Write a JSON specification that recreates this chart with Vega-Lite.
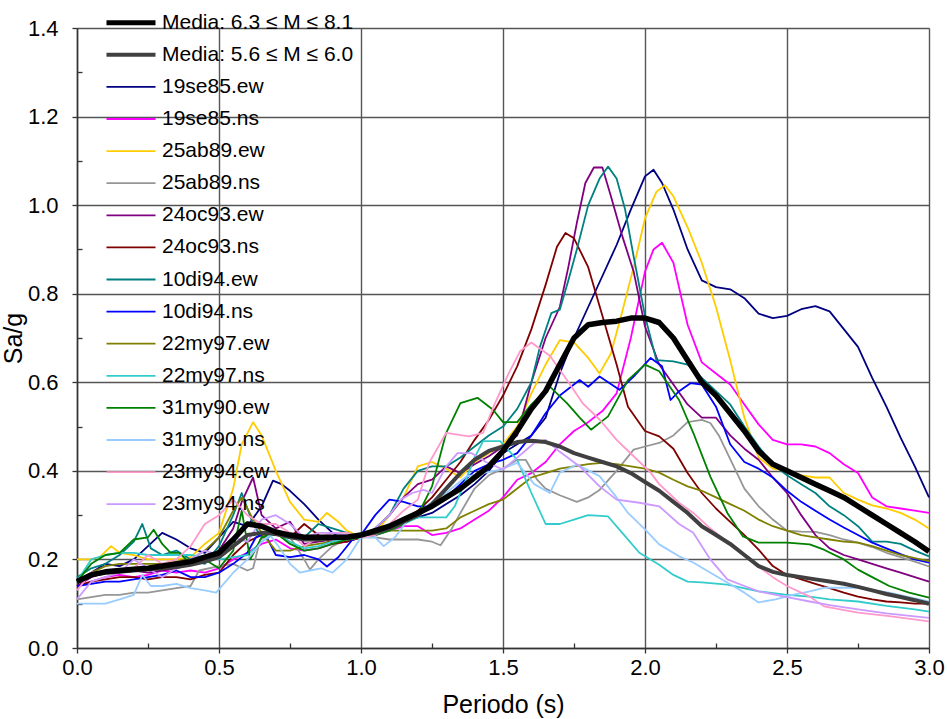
{
  "$schema": "https://vega.github.io/schema/vega-lite/v6.json",
  "width": 852,
  "height": 620,
  "autosize": "none",
  "padding": {"left": 77, "top": 28, "right": 18, "bottom": 71},
  "background": "white",
  "config": {
    "view": {"stroke": null},
    "font": "Liberation Sans",
    "axis": {
      "labelFont": "Liberation Sans",
      "labelFontSize": 22,
      "labelColor": "#000000",
      "titleFont": "Liberation Sans",
      "titleFontSize": 25,
      "titleFontWeight": "normal",
      "titleColor": "#000000",
      "domainColor": "#333333",
      "domainWidth": 1.5,
      "tickColor": "#333333",
      "tickWidth": 1.3,
      "gridColor": "#555555",
      "gridWidth": 1.4,
      "labelOverlap": false,
      "labelFlush": false
    }
  },
  "datasets": {
    "media_63_81": [
      {"T":0,"Sa":0.15},{"T":0.05,"Sa":0.165},{"T":0.1,"Sa":0.172},{"T":0.15,"Sa":0.175},{"T":0.2,"Sa":0.178},{"T":0.25,"Sa":0.18},{"T":0.3,"Sa":0.185},{"T":0.35,"Sa":0.19},{"T":0.4,"Sa":0.195},{"T":0.45,"Sa":0.205},{"T":0.5,"Sa":0.215},{"T":0.55,"Sa":0.245},{"T":0.6,"Sa":0.28},{"T":0.65,"Sa":0.275},{"T":0.7,"Sa":0.262},{"T":0.75,"Sa":0.255},{"T":0.8,"Sa":0.25},{"T":0.85,"Sa":0.25},{"T":0.9,"Sa":0.25},{"T":0.95,"Sa":0.25},{"T":1.0,"Sa":0.255},{"T":1.05,"Sa":0.265},{"T":1.1,"Sa":0.275},{"T":1.15,"Sa":0.29},{"T":1.2,"Sa":0.305},{"T":1.25,"Sa":0.32},{"T":1.3,"Sa":0.34},{"T":1.35,"Sa":0.36},{"T":1.4,"Sa":0.385},{"T":1.45,"Sa":0.41},{"T":1.5,"Sa":0.445},{"T":1.55,"Sa":0.49},{"T":1.6,"Sa":0.54},{"T":1.65,"Sa":0.58},{"T":1.7,"Sa":0.64},{"T":1.75,"Sa":0.7},{"T":1.8,"Sa":0.73},{"T":1.85,"Sa":0.735},{"T":1.9,"Sa":0.738},{"T":1.95,"Sa":0.745},{"T":2.0,"Sa":0.745},{"T":2.05,"Sa":0.735},{"T":2.1,"Sa":0.7},{"T":2.15,"Sa":0.65},{"T":2.2,"Sa":0.6},{"T":2.25,"Sa":0.57},{"T":2.3,"Sa":0.53},{"T":2.35,"Sa":0.49},{"T":2.4,"Sa":0.445},{"T":2.45,"Sa":0.415},{"T":2.5,"Sa":0.4},{"T":2.55,"Sa":0.385},{"T":2.6,"Sa":0.37},{"T":2.65,"Sa":0.355},{"T":2.7,"Sa":0.34},{"T":2.75,"Sa":0.32},{"T":2.8,"Sa":0.3},{"T":2.85,"Sa":0.28},{"T":2.9,"Sa":0.26},{"T":2.95,"Sa":0.24},{"T":3.0,"Sa":0.218}
    ],
    "media_56_60": [
      {"T":0,"Sa":0.15},{"T":0.05,"Sa":0.165},{"T":0.1,"Sa":0.17},{"T":0.15,"Sa":0.172},{"T":0.2,"Sa":0.175},{"T":0.25,"Sa":0.178},{"T":0.3,"Sa":0.18},{"T":0.35,"Sa":0.183},{"T":0.4,"Sa":0.188},{"T":0.45,"Sa":0.195},{"T":0.5,"Sa":0.205},{"T":0.55,"Sa":0.23},{"T":0.6,"Sa":0.255},{"T":0.65,"Sa":0.26},{"T":0.7,"Sa":0.258},{"T":0.75,"Sa":0.25},{"T":0.8,"Sa":0.245},{"T":0.85,"Sa":0.245},{"T":0.9,"Sa":0.248},{"T":0.95,"Sa":0.25},{"T":1.0,"Sa":0.255},{"T":1.05,"Sa":0.26},{"T":1.1,"Sa":0.27},{"T":1.15,"Sa":0.285},{"T":1.2,"Sa":0.3},{"T":1.25,"Sa":0.325},{"T":1.3,"Sa":0.36},{"T":1.35,"Sa":0.395},{"T":1.4,"Sa":0.425},{"T":1.45,"Sa":0.445},{"T":1.5,"Sa":0.455},{"T":1.55,"Sa":0.465},{"T":1.6,"Sa":0.468},{"T":1.65,"Sa":0.465},{"T":1.7,"Sa":0.455},{"T":1.75,"Sa":0.44},{"T":1.8,"Sa":0.43},{"T":1.85,"Sa":0.42},{"T":1.9,"Sa":0.41},{"T":1.95,"Sa":0.395},{"T":2.0,"Sa":0.375},{"T":2.05,"Sa":0.355},{"T":2.1,"Sa":0.33},{"T":2.15,"Sa":0.305},{"T":2.2,"Sa":0.275},{"T":2.25,"Sa":0.255},{"T":2.3,"Sa":0.235},{"T":2.35,"Sa":0.21},{"T":2.4,"Sa":0.185},{"T":2.45,"Sa":0.172},{"T":2.5,"Sa":0.165},{"T":2.55,"Sa":0.16},{"T":2.6,"Sa":0.155},{"T":2.65,"Sa":0.15},{"T":2.7,"Sa":0.145},{"T":2.75,"Sa":0.138},{"T":2.8,"Sa":0.13},{"T":2.85,"Sa":0.122},{"T":2.9,"Sa":0.115},{"T":2.95,"Sa":0.108},{"T":3.0,"Sa":0.1}
    ],
    "19se85_ew": [
      {"T":0,"Sa":0.15},{"T":0.05,"Sa":0.17},{"T":0.1,"Sa":0.19},{"T":0.15,"Sa":0.185},{"T":0.2,"Sa":0.2},{"T":0.25,"Sa":0.23},{"T":0.3,"Sa":0.26},{"T":0.35,"Sa":0.245},{"T":0.4,"Sa":0.225},{"T":0.45,"Sa":0.215},{"T":0.5,"Sa":0.25},{"T":0.55,"Sa":0.285},{"T":0.6,"Sa":0.275},{"T":0.65,"Sa":0.32},{"T":0.69,"Sa":0.378},{"T":0.72,"Sa":0.37},{"T":0.75,"Sa":0.355},{"T":0.8,"Sa":0.325},{"T":0.85,"Sa":0.29},{"T":0.9,"Sa":0.26},{"T":0.95,"Sa":0.24},{"T":1.0,"Sa":0.25},{"T":1.05,"Sa":0.26},{"T":1.1,"Sa":0.275},{"T":1.15,"Sa":0.285},{"T":1.2,"Sa":0.295},{"T":1.25,"Sa":0.305},{"T":1.3,"Sa":0.325},{"T":1.35,"Sa":0.345},{"T":1.4,"Sa":0.37},{"T":1.45,"Sa":0.4},{"T":1.5,"Sa":0.44},{"T":1.55,"Sa":0.46},{"T":1.6,"Sa":0.48},{"T":1.65,"Sa":0.52},{"T":1.7,"Sa":0.62},{"T":1.75,"Sa":0.7},{"T":1.8,"Sa":0.77},{"T":1.85,"Sa":0.84},{"T":1.9,"Sa":0.91},{"T":1.95,"Sa":0.99},{"T":2.0,"Sa":1.065},{"T":2.03,"Sa":1.08},{"T":2.06,"Sa":1.05},{"T":2.1,"Sa":0.99},{"T":2.15,"Sa":0.9},{"T":2.2,"Sa":0.83},{"T":2.25,"Sa":0.815},{"T":2.3,"Sa":0.81},{"T":2.35,"Sa":0.79},{"T":2.4,"Sa":0.755},{"T":2.45,"Sa":0.745},{"T":2.5,"Sa":0.75},{"T":2.55,"Sa":0.765},{"T":2.6,"Sa":0.772},{"T":2.65,"Sa":0.76},{"T":2.7,"Sa":0.72},{"T":2.75,"Sa":0.68},{"T":2.8,"Sa":0.61},{"T":2.85,"Sa":0.545},{"T":2.9,"Sa":0.475},{"T":2.95,"Sa":0.41},{"T":3.0,"Sa":0.34}
    ],
    "19se85_ns": [
      {"T":0,"Sa":0.14},{"T":0.05,"Sa":0.15},{"T":0.1,"Sa":0.16},{"T":0.15,"Sa":0.165},{"T":0.2,"Sa":0.16},{"T":0.25,"Sa":0.165},{"T":0.3,"Sa":0.175},{"T":0.35,"Sa":0.17},{"T":0.4,"Sa":0.175},{"T":0.45,"Sa":0.17},{"T":0.5,"Sa":0.18},{"T":0.55,"Sa":0.2},{"T":0.6,"Sa":0.215},{"T":0.65,"Sa":0.235},{"T":0.7,"Sa":0.245},{"T":0.75,"Sa":0.225},{"T":0.8,"Sa":0.22},{"T":0.85,"Sa":0.225},{"T":0.9,"Sa":0.235},{"T":0.95,"Sa":0.24},{"T":1.0,"Sa":0.25},{"T":1.05,"Sa":0.255},{"T":1.1,"Sa":0.265},{"T":1.15,"Sa":0.275},{"T":1.2,"Sa":0.275},{"T":1.25,"Sa":0.255},{"T":1.3,"Sa":0.26},{"T":1.35,"Sa":0.27},{"T":1.4,"Sa":0.29},{"T":1.45,"Sa":0.31},{"T":1.5,"Sa":0.34},{"T":1.55,"Sa":0.38},{"T":1.6,"Sa":0.395},{"T":1.65,"Sa":0.42},{"T":1.7,"Sa":0.46},{"T":1.75,"Sa":0.49},{"T":1.8,"Sa":0.51},{"T":1.85,"Sa":0.535},{"T":1.9,"Sa":0.575},{"T":1.95,"Sa":0.7},{"T":2.0,"Sa":0.85},{"T":2.03,"Sa":0.9},{"T":2.06,"Sa":0.915},{"T":2.1,"Sa":0.87},{"T":2.15,"Sa":0.73},{"T":2.2,"Sa":0.645},{"T":2.25,"Sa":0.62},{"T":2.3,"Sa":0.595},{"T":2.35,"Sa":0.55},{"T":2.4,"Sa":0.505},{"T":2.45,"Sa":0.47},{"T":2.5,"Sa":0.46},{"T":2.55,"Sa":0.46},{"T":2.6,"Sa":0.455},{"T":2.65,"Sa":0.44},{"T":2.7,"Sa":0.415},{"T":2.75,"Sa":0.395},{"T":2.8,"Sa":0.34},{"T":2.85,"Sa":0.32},{"T":2.9,"Sa":0.315},{"T":2.95,"Sa":0.31},{"T":3.0,"Sa":0.305}
    ],
    "25ab89_ew": [
      {"T":0,"Sa":0.2},{"T":0.05,"Sa":0.2},{"T":0.08,"Sa":0.205},{"T":0.12,"Sa":0.23},{"T":0.15,"Sa":0.215},{"T":0.2,"Sa":0.21},{"T":0.25,"Sa":0.2},{"T":0.3,"Sa":0.2},{"T":0.35,"Sa":0.2},{"T":0.4,"Sa":0.205},{"T":0.45,"Sa":0.235},{"T":0.5,"Sa":0.26},{"T":0.55,"Sa":0.36},{"T":0.58,"Sa":0.46},{"T":0.62,"Sa":0.51},{"T":0.65,"Sa":0.48},{"T":0.7,"Sa":0.4},{"T":0.75,"Sa":0.33},{"T":0.8,"Sa":0.29},{"T":0.85,"Sa":0.285},{"T":0.88,"Sa":0.305},{"T":0.92,"Sa":0.285},{"T":0.95,"Sa":0.265},{"T":1.0,"Sa":0.25},{"T":1.05,"Sa":0.26},{"T":1.1,"Sa":0.3},{"T":1.15,"Sa":0.34},{"T":1.2,"Sa":0.41},{"T":1.25,"Sa":0.42},{"T":1.3,"Sa":0.405},{"T":1.35,"Sa":0.385},{"T":1.4,"Sa":0.42},{"T":1.45,"Sa":0.44},{"T":1.5,"Sa":0.46},{"T":1.55,"Sa":0.5},{"T":1.6,"Sa":0.575},{"T":1.65,"Sa":0.64},{"T":1.7,"Sa":0.695},{"T":1.75,"Sa":0.69},{"T":1.8,"Sa":0.655},{"T":1.84,"Sa":0.62},{"T":1.88,"Sa":0.665},{"T":1.92,"Sa":0.76},{"T":1.96,"Sa":0.86},{"T":2.0,"Sa":0.97},{"T":2.04,"Sa":1.03},{"T":2.07,"Sa":1.045},{"T":2.1,"Sa":1.02},{"T":2.15,"Sa":0.95},{"T":2.2,"Sa":0.87},{"T":2.25,"Sa":0.77},{"T":2.3,"Sa":0.65},{"T":2.35,"Sa":0.52},{"T":2.4,"Sa":0.43},{"T":2.45,"Sa":0.405},{"T":2.5,"Sa":0.4},{"T":2.55,"Sa":0.39},{"T":2.6,"Sa":0.385},{"T":2.65,"Sa":0.385},{"T":2.7,"Sa":0.35},{"T":2.75,"Sa":0.335},{"T":2.8,"Sa":0.322},{"T":2.85,"Sa":0.315},{"T":2.9,"Sa":0.305},{"T":2.95,"Sa":0.29},{"T":3.0,"Sa":0.27}
    ],
    "25ab89_ns": [
      {"T":0,"Sa":0.11},{"T":0.05,"Sa":0.115},{"T":0.1,"Sa":0.12},{"T":0.15,"Sa":0.12},{"T":0.2,"Sa":0.125},{"T":0.25,"Sa":0.125},{"T":0.3,"Sa":0.13},{"T":0.35,"Sa":0.135},{"T":0.4,"Sa":0.14},{"T":0.43,"Sa":0.175},{"T":0.5,"Sa":0.185},{"T":0.55,"Sa":0.19},{"T":0.6,"Sa":0.175},{"T":0.62,"Sa":0.18},{"T":0.645,"Sa":0.245},{"T":0.7,"Sa":0.26},{"T":0.75,"Sa":0.25},{"T":0.8,"Sa":0.2},{"T":0.82,"Sa":0.177},{"T":0.85,"Sa":0.2},{"T":0.9,"Sa":0.23},{"T":0.95,"Sa":0.245},{"T":1.0,"Sa":0.25},{"T":1.05,"Sa":0.25},{"T":1.1,"Sa":0.245},{"T":1.15,"Sa":0.245},{"T":1.2,"Sa":0.245},{"T":1.25,"Sa":0.24},{"T":1.28,"Sa":0.232},{"T":1.32,"Sa":0.27},{"T":1.35,"Sa":0.305},{"T":1.4,"Sa":0.36},{"T":1.45,"Sa":0.39},{"T":1.5,"Sa":0.405},{"T":1.55,"Sa":0.425},{"T":1.58,"Sa":0.425},{"T":1.62,"Sa":0.38},{"T":1.65,"Sa":0.36},{"T":1.7,"Sa":0.345},{"T":1.76,"Sa":0.33},{"T":1.8,"Sa":0.34},{"T":1.84,"Sa":0.357},{"T":1.9,"Sa":0.4},{"T":1.96,"Sa":0.448},{"T":2.0,"Sa":0.455},{"T":2.05,"Sa":0.463},{"T":2.1,"Sa":0.48},{"T":2.15,"Sa":0.51},{"T":2.2,"Sa":0.515},{"T":2.23,"Sa":0.508},{"T":2.26,"Sa":0.48},{"T":2.29,"Sa":0.44},{"T":2.35,"Sa":0.36},{"T":2.4,"Sa":0.32},{"T":2.45,"Sa":0.29},{"T":2.5,"Sa":0.265},{"T":2.55,"Sa":0.263},{"T":2.6,"Sa":0.262},{"T":2.65,"Sa":0.255},{"T":2.7,"Sa":0.245},{"T":2.75,"Sa":0.238},{"T":2.8,"Sa":0.228},{"T":2.85,"Sa":0.215},{"T":2.9,"Sa":0.205},{"T":2.95,"Sa":0.195},{"T":3.0,"Sa":0.184}
    ],
    "24oc93_ew": [
      {"T":0,"Sa":0.14},{"T":0.05,"Sa":0.16},{"T":0.1,"Sa":0.17},{"T":0.15,"Sa":0.175},{"T":0.2,"Sa":0.175},{"T":0.25,"Sa":0.17},{"T":0.3,"Sa":0.175},{"T":0.35,"Sa":0.18},{"T":0.4,"Sa":0.19},{"T":0.45,"Sa":0.2},{"T":0.5,"Sa":0.22},{"T":0.55,"Sa":0.27},{"T":0.58,"Sa":0.33},{"T":0.62,"Sa":0.385},{"T":0.65,"Sa":0.3},{"T":0.7,"Sa":0.27},{"T":0.75,"Sa":0.285},{"T":0.8,"Sa":0.235},{"T":0.85,"Sa":0.24},{"T":0.9,"Sa":0.245},{"T":0.95,"Sa":0.25},{"T":1.0,"Sa":0.25},{"T":1.05,"Sa":0.27},{"T":1.1,"Sa":0.3},{"T":1.15,"Sa":0.34},{"T":1.2,"Sa":0.37},{"T":1.25,"Sa":0.38},{"T":1.3,"Sa":0.41},{"T":1.35,"Sa":0.395},{"T":1.4,"Sa":0.415},{"T":1.45,"Sa":0.433},{"T":1.5,"Sa":0.455},{"T":1.55,"Sa":0.48},{"T":1.6,"Sa":0.6},{"T":1.65,"Sa":0.7},{"T":1.7,"Sa":0.77},{"T":1.73,"Sa":0.86},{"T":1.76,"Sa":0.96},{"T":1.79,"Sa":1.05},{"T":1.82,"Sa":1.085},{"T":1.85,"Sa":1.085},{"T":1.88,"Sa":1.02},{"T":1.92,"Sa":0.93},{"T":1.96,"Sa":0.85},{"T":2.0,"Sa":0.726},{"T":2.05,"Sa":0.64},{"T":2.1,"Sa":0.595},{"T":2.15,"Sa":0.55},{"T":2.2,"Sa":0.52},{"T":2.25,"Sa":0.52},{"T":2.3,"Sa":0.48},{"T":2.35,"Sa":0.45},{"T":2.4,"Sa":0.425},{"T":2.45,"Sa":0.385},{"T":2.5,"Sa":0.35},{"T":2.55,"Sa":0.3},{"T":2.6,"Sa":0.255},{"T":2.65,"Sa":0.225},{"T":2.7,"Sa":0.21},{"T":2.75,"Sa":0.2},{"T":2.8,"Sa":0.19},{"T":2.85,"Sa":0.18},{"T":2.9,"Sa":0.17},{"T":2.95,"Sa":0.16},{"T":3.0,"Sa":0.15}
    ],
    "24oc93_ns": [
      {"T":0,"Sa":0.14},{"T":0.05,"Sa":0.15},{"T":0.1,"Sa":0.155},{"T":0.15,"Sa":0.16},{"T":0.2,"Sa":0.16},{"T":0.25,"Sa":0.155},{"T":0.3,"Sa":0.16},{"T":0.35,"Sa":0.16},{"T":0.4,"Sa":0.155},{"T":0.45,"Sa":0.165},{"T":0.5,"Sa":0.17},{"T":0.55,"Sa":0.21},{"T":0.6,"Sa":0.24},{"T":0.65,"Sa":0.255},{"T":0.7,"Sa":0.255},{"T":0.75,"Sa":0.25},{"T":0.8,"Sa":0.28},{"T":0.85,"Sa":0.255},{"T":0.9,"Sa":0.235},{"T":0.95,"Sa":0.24},{"T":1.0,"Sa":0.25},{"T":1.05,"Sa":0.26},{"T":1.1,"Sa":0.275},{"T":1.15,"Sa":0.29},{"T":1.2,"Sa":0.31},{"T":1.25,"Sa":0.34},{"T":1.3,"Sa":0.38},{"T":1.35,"Sa":0.42},{"T":1.4,"Sa":0.47},{"T":1.45,"Sa":0.515},{"T":1.5,"Sa":0.57},{"T":1.55,"Sa":0.636},{"T":1.6,"Sa":0.72},{"T":1.65,"Sa":0.82},{"T":1.69,"Sa":0.906},{"T":1.72,"Sa":0.937},{"T":1.75,"Sa":0.925},{"T":1.8,"Sa":0.86},{"T":1.85,"Sa":0.75},{"T":1.9,"Sa":0.64},{"T":1.94,"Sa":0.545},{"T":2.0,"Sa":0.49},{"T":2.05,"Sa":0.478},{"T":2.1,"Sa":0.45},{"T":2.15,"Sa":0.395},{"T":2.2,"Sa":0.35},{"T":2.25,"Sa":0.315},{"T":2.3,"Sa":0.285},{"T":2.35,"Sa":0.255},{"T":2.4,"Sa":0.222},{"T":2.45,"Sa":0.185},{"T":2.5,"Sa":0.165},{"T":2.55,"Sa":0.155},{"T":2.6,"Sa":0.145},{"T":2.65,"Sa":0.135},{"T":2.7,"Sa":0.125},{"T":2.75,"Sa":0.116},{"T":2.8,"Sa":0.11},{"T":2.85,"Sa":0.105},{"T":2.9,"Sa":0.103},{"T":2.95,"Sa":0.1},{"T":3.0,"Sa":0.1}
    ],
    "10di94_ew": [
      {"T":0,"Sa":0.16},{"T":0.05,"Sa":0.18},{"T":0.1,"Sa":0.19},{"T":0.15,"Sa":0.21},{"T":0.2,"Sa":0.24},{"T":0.23,"Sa":0.28},{"T":0.26,"Sa":0.225},{"T":0.3,"Sa":0.21},{"T":0.35,"Sa":0.22},{"T":0.4,"Sa":0.2},{"T":0.45,"Sa":0.19},{"T":0.5,"Sa":0.23},{"T":0.55,"Sa":0.3},{"T":0.58,"Sa":0.35},{"T":0.62,"Sa":0.28},{"T":0.65,"Sa":0.25},{"T":0.7,"Sa":0.26},{"T":0.75,"Sa":0.25},{"T":0.8,"Sa":0.25},{"T":0.85,"Sa":0.28},{"T":0.9,"Sa":0.27},{"T":0.95,"Sa":0.26},{"T":1.0,"Sa":0.25},{"T":1.05,"Sa":0.27},{"T":1.1,"Sa":0.3},{"T":1.15,"Sa":0.36},{"T":1.2,"Sa":0.4},{"T":1.25,"Sa":0.41},{"T":1.3,"Sa":0.41},{"T":1.35,"Sa":0.43},{"T":1.4,"Sa":0.455},{"T":1.45,"Sa":0.48},{"T":1.5,"Sa":0.5},{"T":1.55,"Sa":0.54},{"T":1.6,"Sa":0.6},{"T":1.63,"Sa":0.68},{"T":1.67,"Sa":0.756},{"T":1.7,"Sa":0.764},{"T":1.73,"Sa":0.83},{"T":1.76,"Sa":0.9},{"T":1.8,"Sa":1.0},{"T":1.84,"Sa":1.06},{"T":1.87,"Sa":1.087},{"T":1.9,"Sa":1.06},{"T":1.93,"Sa":0.99},{"T":1.96,"Sa":0.884},{"T":2.0,"Sa":0.75},{"T":2.04,"Sa":0.65},{"T":2.1,"Sa":0.647},{"T":2.15,"Sa":0.64},{"T":2.2,"Sa":0.61},{"T":2.25,"Sa":0.58},{"T":2.3,"Sa":0.55},{"T":2.35,"Sa":0.5},{"T":2.4,"Sa":0.455},{"T":2.45,"Sa":0.415},{"T":2.5,"Sa":0.39},{"T":2.55,"Sa":0.37},{"T":2.6,"Sa":0.35},{"T":2.65,"Sa":0.32},{"T":2.7,"Sa":0.3},{"T":2.75,"Sa":0.275},{"T":2.8,"Sa":0.24},{"T":2.85,"Sa":0.24},{"T":2.9,"Sa":0.235},{"T":2.95,"Sa":0.22},{"T":3.0,"Sa":0.207}
    ],
    "10di94_ns": [
      {"T":0,"Sa":0.14},{"T":0.05,"Sa":0.145},{"T":0.1,"Sa":0.15},{"T":0.15,"Sa":0.15},{"T":0.2,"Sa":0.155},{"T":0.25,"Sa":0.16},{"T":0.3,"Sa":0.165},{"T":0.35,"Sa":0.175},{"T":0.4,"Sa":0.16},{"T":0.45,"Sa":0.16},{"T":0.5,"Sa":0.17},{"T":0.55,"Sa":0.19},{"T":0.6,"Sa":0.215},{"T":0.63,"Sa":0.25},{"T":0.66,"Sa":0.26},{"T":0.7,"Sa":0.21},{"T":0.75,"Sa":0.205},{"T":0.8,"Sa":0.21},{"T":0.85,"Sa":0.2},{"T":0.88,"Sa":0.184},{"T":0.92,"Sa":0.205},{"T":0.97,"Sa":0.245},{"T":1.0,"Sa":0.255},{"T":1.05,"Sa":0.3},{"T":1.1,"Sa":0.335},{"T":1.15,"Sa":0.33},{"T":1.2,"Sa":0.32},{"T":1.25,"Sa":0.32},{"T":1.3,"Sa":0.34},{"T":1.35,"Sa":0.37},{"T":1.4,"Sa":0.4},{"T":1.45,"Sa":0.415},{"T":1.5,"Sa":0.425},{"T":1.55,"Sa":0.44},{"T":1.6,"Sa":0.48},{"T":1.65,"Sa":0.53},{"T":1.7,"Sa":0.57},{"T":1.77,"Sa":0.605},{"T":1.8,"Sa":0.59},{"T":1.84,"Sa":0.613},{"T":1.91,"Sa":0.583},{"T":1.96,"Sa":0.613},{"T":2.02,"Sa":0.655},{"T":2.06,"Sa":0.636},{"T":2.09,"Sa":0.56},{"T":2.12,"Sa":0.58},{"T":2.16,"Sa":0.598},{"T":2.2,"Sa":0.595},{"T":2.25,"Sa":0.545},{"T":2.3,"Sa":0.46},{"T":2.35,"Sa":0.42},{"T":2.4,"Sa":0.405},{"T":2.45,"Sa":0.385},{"T":2.5,"Sa":0.355},{"T":2.55,"Sa":0.33},{"T":2.6,"Sa":0.31},{"T":2.65,"Sa":0.29},{"T":2.7,"Sa":0.272},{"T":2.75,"Sa":0.255},{"T":2.8,"Sa":0.238},{"T":2.85,"Sa":0.225},{"T":2.9,"Sa":0.212},{"T":2.95,"Sa":0.2},{"T":3.0,"Sa":0.193}
    ],
    "22my97_ew": [
      {"T":0,"Sa":0.15},{"T":0.05,"Sa":0.17},{"T":0.1,"Sa":0.185},{"T":0.15,"Sa":0.19},{"T":0.2,"Sa":0.19},{"T":0.25,"Sa":0.19},{"T":0.3,"Sa":0.19},{"T":0.35,"Sa":0.195},{"T":0.4,"Sa":0.2},{"T":0.45,"Sa":0.22},{"T":0.5,"Sa":0.25},{"T":0.55,"Sa":0.31},{"T":0.58,"Sa":0.34},{"T":0.62,"Sa":0.29},{"T":0.65,"Sa":0.26},{"T":0.7,"Sa":0.22},{"T":0.75,"Sa":0.22},{"T":0.8,"Sa":0.23},{"T":0.85,"Sa":0.235},{"T":0.9,"Sa":0.24},{"T":0.95,"Sa":0.245},{"T":1.0,"Sa":0.25},{"T":1.05,"Sa":0.26},{"T":1.1,"Sa":0.265},{"T":1.15,"Sa":0.265},{"T":1.2,"Sa":0.265},{"T":1.25,"Sa":0.265},{"T":1.3,"Sa":0.27},{"T":1.35,"Sa":0.295},{"T":1.4,"Sa":0.31},{"T":1.45,"Sa":0.325},{"T":1.5,"Sa":0.335},{"T":1.55,"Sa":0.36},{"T":1.6,"Sa":0.385},{"T":1.65,"Sa":0.395},{"T":1.7,"Sa":0.405},{"T":1.75,"Sa":0.41},{"T":1.8,"Sa":0.415},{"T":1.85,"Sa":0.418},{"T":1.9,"Sa":0.415},{"T":1.95,"Sa":0.41},{"T":2.0,"Sa":0.405},{"T":2.05,"Sa":0.396},{"T":2.1,"Sa":0.38},{"T":2.15,"Sa":0.365},{"T":2.2,"Sa":0.355},{"T":2.25,"Sa":0.34},{"T":2.3,"Sa":0.325},{"T":2.35,"Sa":0.31},{"T":2.4,"Sa":0.29},{"T":2.45,"Sa":0.275},{"T":2.5,"Sa":0.265},{"T":2.55,"Sa":0.255},{"T":2.6,"Sa":0.25},{"T":2.65,"Sa":0.245},{"T":2.7,"Sa":0.24},{"T":2.75,"Sa":0.238},{"T":2.8,"Sa":0.23},{"T":2.85,"Sa":0.22},{"T":2.9,"Sa":0.21},{"T":2.95,"Sa":0.203},{"T":3.0,"Sa":0.196}
    ],
    "22my97_ns": [
      {"T":0,"Sa":0.15},{"T":0.05,"Sa":0.2},{"T":0.1,"Sa":0.21},{"T":0.15,"Sa":0.215},{"T":0.2,"Sa":0.215},{"T":0.25,"Sa":0.21},{"T":0.3,"Sa":0.21},{"T":0.35,"Sa":0.21},{"T":0.4,"Sa":0.21},{"T":0.45,"Sa":0.205},{"T":0.5,"Sa":0.2},{"T":0.55,"Sa":0.205},{"T":0.6,"Sa":0.21},{"T":0.65,"Sa":0.24},{"T":0.7,"Sa":0.26},{"T":0.75,"Sa":0.24},{"T":0.8,"Sa":0.225},{"T":0.85,"Sa":0.23},{"T":0.9,"Sa":0.24},{"T":0.95,"Sa":0.245},{"T":1.0,"Sa":0.25},{"T":1.05,"Sa":0.255},{"T":1.1,"Sa":0.265},{"T":1.15,"Sa":0.28},{"T":1.2,"Sa":0.295},{"T":1.25,"Sa":0.295},{"T":1.3,"Sa":0.295},{"T":1.33,"Sa":0.32},{"T":1.36,"Sa":0.365},{"T":1.4,"Sa":0.43},{"T":1.43,"Sa":0.467},{"T":1.49,"Sa":0.467},{"T":1.55,"Sa":0.425},{"T":1.6,"Sa":0.35},{"T":1.65,"Sa":0.28},{"T":1.7,"Sa":0.28},{"T":1.75,"Sa":0.29},{"T":1.8,"Sa":0.3},{"T":1.87,"Sa":0.297},{"T":1.92,"Sa":0.26},{"T":1.98,"Sa":0.215},{"T":2.05,"Sa":0.188},{"T":2.1,"Sa":0.165},{"T":2.15,"Sa":0.15},{"T":2.2,"Sa":0.148},{"T":2.29,"Sa":0.143},{"T":2.4,"Sa":0.128},{"T":2.5,"Sa":0.12},{"T":2.58,"Sa":0.116},{"T":2.65,"Sa":0.11},{"T":2.75,"Sa":0.105},{"T":2.85,"Sa":0.095},{"T":2.95,"Sa":0.087},{"T":3.0,"Sa":0.082}
    ],
    "31my90_ew": [
      {"T":0,"Sa":0.15},{"T":0.05,"Sa":0.19},{"T":0.1,"Sa":0.21},{"T":0.15,"Sa":0.215},{"T":0.2,"Sa":0.245},{"T":0.25,"Sa":0.25},{"T":0.27,"Sa":0.267},{"T":0.3,"Sa":0.235},{"T":0.33,"Sa":0.215},{"T":0.36,"Sa":0.215},{"T":0.4,"Sa":0.19},{"T":0.45,"Sa":0.2},{"T":0.5,"Sa":0.18},{"T":0.55,"Sa":0.22},{"T":0.58,"Sa":0.31},{"T":0.61,"Sa":0.2},{"T":0.65,"Sa":0.25},{"T":0.7,"Sa":0.26},{"T":0.75,"Sa":0.235},{"T":0.8,"Sa":0.22},{"T":0.85,"Sa":0.225},{"T":0.9,"Sa":0.235},{"T":0.95,"Sa":0.245},{"T":1.0,"Sa":0.25},{"T":1.05,"Sa":0.255},{"T":1.1,"Sa":0.265},{"T":1.15,"Sa":0.28},{"T":1.2,"Sa":0.3},{"T":1.25,"Sa":0.365},{"T":1.3,"Sa":0.486},{"T":1.35,"Sa":0.553},{"T":1.41,"Sa":0.565},{"T":1.465,"Sa":0.538},{"T":1.5,"Sa":0.51},{"T":1.55,"Sa":0.51},{"T":1.6,"Sa":0.55},{"T":1.665,"Sa":0.59},{"T":1.725,"Sa":0.553},{"T":1.77,"Sa":0.52},{"T":1.81,"Sa":0.493},{"T":1.87,"Sa":0.523},{"T":1.94,"Sa":0.605},{"T":2.0,"Sa":0.64},{"T":2.05,"Sa":0.625},{"T":2.12,"Sa":0.56},{"T":2.17,"Sa":0.486},{"T":2.23,"Sa":0.387},{"T":2.29,"Sa":0.305},{"T":2.345,"Sa":0.252},{"T":2.4,"Sa":0.238},{"T":2.5,"Sa":0.238},{"T":2.58,"Sa":0.234},{"T":2.63,"Sa":0.222},{"T":2.7,"Sa":0.2},{"T":2.75,"Sa":0.177},{"T":2.8,"Sa":0.16},{"T":2.86,"Sa":0.14},{"T":2.93,"Sa":0.125},{"T":3.0,"Sa":0.114}
    ],
    "31my90_ns": [
      {"T":0,"Sa":0.1},{"T":0.05,"Sa":0.1},{"T":0.1,"Sa":0.1},{"T":0.15,"Sa":0.11},{"T":0.2,"Sa":0.12},{"T":0.23,"Sa":0.165},{"T":0.26,"Sa":0.14},{"T":0.3,"Sa":0.14},{"T":0.35,"Sa":0.145},{"T":0.4,"Sa":0.135},{"T":0.45,"Sa":0.13},{"T":0.49,"Sa":0.125},{"T":0.55,"Sa":0.17},{"T":0.6,"Sa":0.2},{"T":0.65,"Sa":0.24},{"T":0.68,"Sa":0.255},{"T":0.72,"Sa":0.22},{"T":0.75,"Sa":0.19},{"T":0.785,"Sa":0.17},{"T":0.82,"Sa":0.175},{"T":0.86,"Sa":0.18},{"T":0.9,"Sa":0.17},{"T":0.95,"Sa":0.2},{"T":1.0,"Sa":0.25},{"T":1.05,"Sa":0.25},{"T":1.08,"Sa":0.23},{"T":1.12,"Sa":0.25},{"T":1.16,"Sa":0.285},{"T":1.2,"Sa":0.305},{"T":1.25,"Sa":0.33},{"T":1.3,"Sa":0.35},{"T":1.37,"Sa":0.387},{"T":1.43,"Sa":0.395},{"T":1.49,"Sa":0.403},{"T":1.55,"Sa":0.418},{"T":1.61,"Sa":0.37},{"T":1.665,"Sa":0.35},{"T":1.7,"Sa":0.396},{"T":1.76,"Sa":0.414},{"T":1.84,"Sa":0.388},{"T":1.9,"Sa":0.34},{"T":1.94,"Sa":0.305},{"T":2.0,"Sa":0.268},{"T":2.05,"Sa":0.234},{"T":2.12,"Sa":0.207},{"T":2.17,"Sa":0.193},{"T":2.23,"Sa":0.17},{"T":2.29,"Sa":0.148},{"T":2.35,"Sa":0.125},{"T":2.4,"Sa":0.103},{"T":2.46,"Sa":0.11},{"T":2.52,"Sa":0.12},{"T":2.58,"Sa":0.128},{"T":2.63,"Sa":0.136},{"T":2.75,"Sa":0.136},{"T":2.86,"Sa":0.125},{"T":2.93,"Sa":0.115},{"T":3.0,"Sa":0.105}
    ],
    "23my94_ew": [
      {"T":0,"Sa":0.13},{"T":0.05,"Sa":0.17},{"T":0.1,"Sa":0.17},{"T":0.15,"Sa":0.175},{"T":0.2,"Sa":0.18},{"T":0.25,"Sa":0.21},{"T":0.3,"Sa":0.19},{"T":0.35,"Sa":0.2},{"T":0.4,"Sa":0.23},{"T":0.45,"Sa":0.28},{"T":0.5,"Sa":0.3},{"T":0.55,"Sa":0.335},{"T":0.6,"Sa":0.3},{"T":0.65,"Sa":0.28},{"T":0.7,"Sa":0.28},{"T":0.75,"Sa":0.26},{"T":0.8,"Sa":0.23},{"T":0.85,"Sa":0.25},{"T":0.9,"Sa":0.26},{"T":0.95,"Sa":0.26},{"T":1.0,"Sa":0.25},{"T":1.05,"Sa":0.255},{"T":1.08,"Sa":0.267},{"T":1.15,"Sa":0.31},{"T":1.2,"Sa":0.335},{"T":1.24,"Sa":0.418},{"T":1.3,"Sa":0.486},{"T":1.38,"Sa":0.478},{"T":1.43,"Sa":0.486},{"T":1.47,"Sa":0.55},{"T":1.52,"Sa":0.62},{"T":1.56,"Sa":0.67},{"T":1.6,"Sa":0.69},{"T":1.665,"Sa":0.66},{"T":1.725,"Sa":0.605},{"T":1.78,"Sa":0.553},{"T":1.84,"Sa":0.516},{"T":1.9,"Sa":0.47},{"T":1.96,"Sa":0.433},{"T":2.02,"Sa":0.396},{"T":2.05,"Sa":0.37},{"T":2.12,"Sa":0.328},{"T":2.17,"Sa":0.305},{"T":2.23,"Sa":0.27},{"T":2.29,"Sa":0.24},{"T":2.35,"Sa":0.21},{"T":2.4,"Sa":0.184},{"T":2.45,"Sa":0.16},{"T":2.5,"Sa":0.14},{"T":2.58,"Sa":0.116},{"T":2.63,"Sa":0.094},{"T":2.75,"Sa":0.08},{"T":2.86,"Sa":0.072},{"T":3.0,"Sa":0.06}
    ],
    "23my94_ns": [
      {"T":0,"Sa":0.11},{"T":0.05,"Sa":0.15},{"T":0.1,"Sa":0.16},{"T":0.15,"Sa":0.17},{"T":0.2,"Sa":0.2},{"T":0.25,"Sa":0.18},{"T":0.3,"Sa":0.16},{"T":0.35,"Sa":0.18},{"T":0.4,"Sa":0.2},{"T":0.45,"Sa":0.22},{"T":0.5,"Sa":0.21},{"T":0.55,"Sa":0.25},{"T":0.6,"Sa":0.24},{"T":0.65,"Sa":0.29},{"T":0.7,"Sa":0.3},{"T":0.75,"Sa":0.28},{"T":0.8,"Sa":0.25},{"T":0.85,"Sa":0.26},{"T":0.9,"Sa":0.26},{"T":0.95,"Sa":0.255},{"T":1.0,"Sa":0.25},{"T":1.05,"Sa":0.27},{"T":1.1,"Sa":0.3},{"T":1.14,"Sa":0.335},{"T":1.18,"Sa":0.35},{"T":1.22,"Sa":0.357},{"T":1.25,"Sa":0.35},{"T":1.3,"Sa":0.41},{"T":1.34,"Sa":0.44},{"T":1.39,"Sa":0.44},{"T":1.44,"Sa":0.42},{"T":1.5,"Sa":0.403},{"T":1.55,"Sa":0.43},{"T":1.61,"Sa":0.463},{"T":1.65,"Sa":0.47},{"T":1.7,"Sa":0.443},{"T":1.77,"Sa":0.41},{"T":1.84,"Sa":0.365},{"T":1.9,"Sa":0.335},{"T":1.98,"Sa":0.328},{"T":2.05,"Sa":0.32},{"T":2.12,"Sa":0.28},{"T":2.17,"Sa":0.26},{"T":2.23,"Sa":0.2},{"T":2.29,"Sa":0.155},{"T":2.35,"Sa":0.14},{"T":2.4,"Sa":0.128},{"T":2.5,"Sa":0.115},{"T":2.58,"Sa":0.105},{"T":2.65,"Sa":0.097},{"T":2.75,"Sa":0.087},{"T":2.85,"Sa":0.078},{"T":3.0,"Sa":0.068}
    ]
  },
  "encoding": {
    "x": {
      "field": "T",
      "type": "quantitative",
      "scale": {"domain": [0, 3], "nice": false, "zero": false},
      "axis": {
        "title": "Periodo (s)",
        "values": [0, 0.25, 0.5, 0.75, 1, 1.25, 1.5, 1.75, 2, 2.25, 2.5, 2.75, 3],
        "labelExpr": "datum.value % 0.5 == 0 ? format(datum.value, '.1f') : ''",
        "grid": true,
        "gridOpacity": {"condition": {"test": "datum.value % 0.5 != 0", "value": 0}, "value": 1},
        "tickSize": {"condition": {"test": "datum.value % 0.5 != 0", "value": -5}, "value": 5},
        "labelPadding": 4,
        "titlePadding": 14
      }
    },
    "y": {
      "field": "Sa",
      "type": "quantitative",
      "scale": {"domain": [0, 1.4], "nice": false},
      "axis": {
        "title": "Sa/g",
        "values": [0, 0.1, 0.2, 0.3, 0.4, 0.5, 0.6, 0.7, 0.8, 0.9, 1.0, 1.1, 1.2, 1.3, 1.4],
        "labelExpr": "round(datum.value * 10) % 2 == 0 ? format(datum.value, '.1f') : ''",
        "grid": true,
        "gridOpacity": {"condition": {"test": "round(datum.value * 10) % 2 == 1", "value": 0}, "value": 1},
        "tickSize": {"condition": {"test": "round(datum.value * 10) % 2 == 1", "value": -5}, "value": 5},
        "labelPadding": 14,
        "titlePadding": 1
      }
    }
  },
  "layer": [
    {
      "data": {"values": [{}]},
      "mark": {"type": "rect", "fill": "white", "strokeWidth": 0},
      "encoding": {
        "x": {"datum": 0.02, "type": "quantitative"},
        "x2": {"datum": 1.025},
        "y": {"datum": 0.29, "type": "quantitative"},
        "y2": {"datum": 1.4}
      }
    },
    {
      "data": {"name": "19se85_ew"},
      "mark": {"type": "line", "strokeWidth": 1.8, "strokeJoin": "round"},
      "encoding": {
        "color": {
          "datum": "19se85.ew",
          "type": "nominal",
          "scale": {
            "domain": ["Media: 6.3 ≤ M ≤ 8.1", "Media: 5.6 ≤ M ≤ 6.0", "19se85.ew", "19se85.ns", "25ab89.ew", "25ab89.ns", "24oc93.ew", "24oc93.ns", "10di94.ew", "10di94.ns", "22my97.ew", "22my97.ns", "31my90.ew", "31my90.ns", "23my94.ew", "23my94.ns"],
            "range": ["#000000", "#404040", "#000080", "#FF00FF", "#FFCC00", "#969696", "#800080", "#800000", "#008080", "#0000FF", "#808000", "#33CCCC", "#008000", "#99CCFF", "#FF99CC", "#CC99FF"]
          },
          "legend": {
            "title": null,
            "orient": "none",
            "legendX": 43.5,
            "legendY": -15.8,
            "padding": 0,
            "symbolType": "M-8.17,0L8.17,0",
            "symbolSize": 36,
            "symbolStrokeWidth": 1.8,
            "labelOffset": 20.5,
            "labelFont": "Liberation Sans",
            "labelFontSize": 21,
            "labelColor": "#000000",
            "labelLimit": 400,
            "rowPadding": 10.1,
            "encode": {
              "symbols": {
                "update": {
                  "strokeWidth": {"signal": "datum.value === 'Media: 6.3 ≤ M ≤ 8.1' ? 5 : datum.value === 'Media: 5.6 ≤ M ≤ 6.0' ? 4 : 1.8"}
                }
              }
            }
          }
        }
      }
    },
    {"data": {"name": "19se85_ns"}, "mark": {"type": "line", "strokeWidth": 1.8, "strokeJoin": "round"}, "encoding": {"color": {"datum": "19se85.ns", "type": "nominal"}}},
    {"data": {"name": "25ab89_ew"}, "mark": {"type": "line", "strokeWidth": 1.8, "strokeJoin": "round"}, "encoding": {"color": {"datum": "25ab89.ew", "type": "nominal"}}},
    {"data": {"name": "25ab89_ns"}, "mark": {"type": "line", "strokeWidth": 1.8, "strokeJoin": "round"}, "encoding": {"color": {"datum": "25ab89.ns", "type": "nominal"}}},
    {"data": {"name": "24oc93_ew"}, "mark": {"type": "line", "strokeWidth": 1.8, "strokeJoin": "round"}, "encoding": {"color": {"datum": "24oc93.ew", "type": "nominal"}}},
    {"data": {"name": "24oc93_ns"}, "mark": {"type": "line", "strokeWidth": 1.8, "strokeJoin": "round"}, "encoding": {"color": {"datum": "24oc93.ns", "type": "nominal"}}},
    {"data": {"name": "10di94_ew"}, "mark": {"type": "line", "strokeWidth": 1.8, "strokeJoin": "round"}, "encoding": {"color": {"datum": "10di94.ew", "type": "nominal"}}},
    {"data": {"name": "10di94_ns"}, "mark": {"type": "line", "strokeWidth": 1.8, "strokeJoin": "round"}, "encoding": {"color": {"datum": "10di94.ns", "type": "nominal"}}},
    {"data": {"name": "22my97_ew"}, "mark": {"type": "line", "strokeWidth": 1.8, "strokeJoin": "round"}, "encoding": {"color": {"datum": "22my97.ew", "type": "nominal"}}},
    {"data": {"name": "22my97_ns"}, "mark": {"type": "line", "strokeWidth": 1.8, "strokeJoin": "round"}, "encoding": {"color": {"datum": "22my97.ns", "type": "nominal"}}},
    {"data": {"name": "31my90_ew"}, "mark": {"type": "line", "strokeWidth": 1.8, "strokeJoin": "round"}, "encoding": {"color": {"datum": "31my90.ew", "type": "nominal"}}},
    {"data": {"name": "31my90_ns"}, "mark": {"type": "line", "strokeWidth": 1.8, "strokeJoin": "round"}, "encoding": {"color": {"datum": "31my90.ns", "type": "nominal"}}},
    {"data": {"name": "23my94_ew"}, "mark": {"type": "line", "strokeWidth": 1.8, "strokeJoin": "round"}, "encoding": {"color": {"datum": "23my94.ew", "type": "nominal"}}},
    {"data": {"name": "23my94_ns"}, "mark": {"type": "line", "strokeWidth": 1.8, "strokeJoin": "round"}, "encoding": {"color": {"datum": "23my94.ns", "type": "nominal"}}},
    {"data": {"name": "media_56_60"}, "mark": {"type": "line", "strokeWidth": 4, "strokeJoin": "round"}, "encoding": {"color": {"datum": "Media: 5.6 ≤ M ≤ 6.0", "type": "nominal"}}},
    {"data": {"name": "media_63_81"}, "mark": {"type": "line", "strokeWidth": 5.5, "strokeJoin": "round"}, "encoding": {"color": {"datum": "Media: 6.3 ≤ M ≤ 8.1", "type": "nominal"}}}
  ]
}
